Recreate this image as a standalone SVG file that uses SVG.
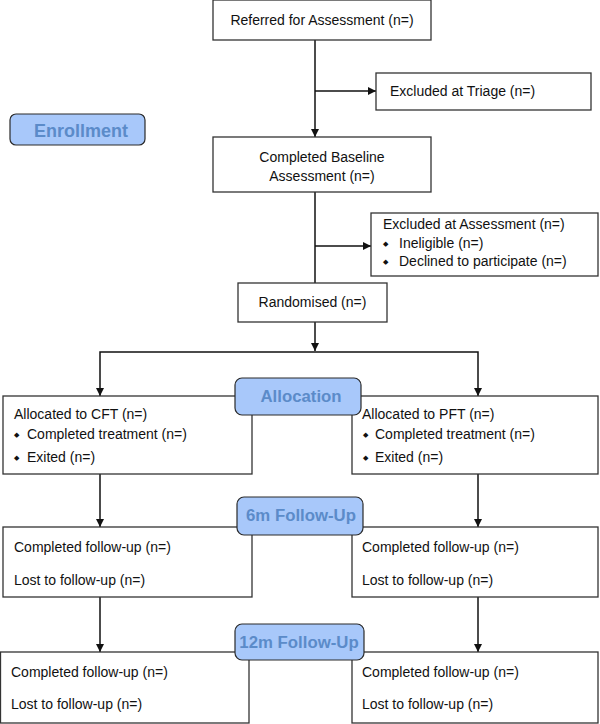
<svg xmlns="http://www.w3.org/2000/svg" width="600" height="724" viewBox="0 0 600 724">
<style>
  .box { fill: #ffffff; stroke: #333333; stroke-width: 1.3; }
  .badge { fill: #a8c8fa; stroke: #2a2a2a; stroke-width: 1.2; }
  .t { font-family: "Liberation Sans", Arial, sans-serif; font-size: 14px; fill: #111111; }
  .c { text-anchor: middle; }
  .b { font-family: "Liberation Sans", Arial, sans-serif; font-weight: bold; font-size: 16.8px; fill: #5b8bc9; text-anchor: middle; }
  .bul { font-family: "DejaVu Sans", sans-serif; font-size: 7px; fill: #111111; }
  .conn { fill: none; stroke: #111111; stroke-width: 1.5; }
</style>
<defs>
  <marker id="arr" markerUnits="userSpaceOnUse" viewBox="0 0 10 10" refX="10" refY="5" markerWidth="9" markerHeight="8" orient="auto">
    <path d="M0,0 L10,5 L0,10 z" fill="#111111"/>
  </marker>
</defs>
<rect width="600" height="724" fill="#ffffff"/>

<g id="connectors">
  <path class="conn" d="M315,40 V137" marker-end="url(#arr)"/>
  <path class="conn" d="M315,91 H376" marker-end="url(#arr)"/>
  <path class="conn" d="M315,192 V283"/>
  <path class="conn" d="M315,246 H371" marker-end="url(#arr)"/>
  <path class="conn" d="M315,322 V351" marker-end="url(#arr)"/>
  <path class="conn" d="M315,352 H100 V396" marker-end="url(#arr)"/>
  <path class="conn" d="M315,352 H478 V396" marker-end="url(#arr)"/>
  <path class="conn" d="M100,474 V527" marker-end="url(#arr)"/>
  <path class="conn" d="M478,474 V527" marker-end="url(#arr)"/>
  <path class="conn" d="M100,597 V652" marker-end="url(#arr)"/>
  <path class="conn" d="M478,597 V652" marker-end="url(#arr)"/>
</g>

<g id="referred">
  <rect class="box" x="213" y="0" width="218" height="40"/>
  <text class="t c" x="322" y="25">Referred for Assessment (n=)</text>
</g>
<g id="triage">
  <rect class="box" x="376" y="73" width="215" height="37"/>
  <text class="t" x="390" y="96">Excluded at Triage (n=)</text>
</g>
<g id="baseline">
  <rect class="box" x="213" y="137" width="218" height="55"/>
  <text class="t c" x="322" y="162">Completed Baseline</text>
  <text class="t c" x="322" y="181">Assessment (n=)</text>
</g>
<g id="excluded-assessment">
  <rect class="box" x="371" y="213" width="227" height="63"/>
  <text class="t" x="383" y="229">Excluded at Assessment (n=)</text>
  <text class="bul" x="383" y="246">◆</text>
  <text class="t" x="399" y="248">Ineligible (n=)</text>
  <text class="bul" x="383" y="264">◆</text>
  <text class="t" x="399" y="266">Declined to participate (n=)</text>
</g>
<g id="randomised">
  <rect class="box" x="238" y="283" width="149" height="39"/>
  <text class="t c" x="312.5" y="307">Randomised (n=)</text>
</g>
<g id="cft">
  <rect class="box" x="3" y="396" width="249" height="78"/>
  <text class="t" x="14" y="419">Allocated to CFT (n=)</text>
  <text class="bul" x="14" y="437">◆</text>
  <text class="t" x="27" y="439">Completed treatment (n=)</text>
  <text class="bul" x="14" y="460">◆</text>
  <text class="t" x="27" y="462">Exited (n=)</text>
</g>
<g id="pft">
  <rect class="box" x="352" y="396" width="246" height="78"/>
  <text class="t" x="362" y="419">Allocated to PFT (n=)</text>
  <text class="bul" x="363" y="437">◆</text>
  <text class="t" x="375" y="439">Completed treatment (n=)</text>
  <text class="bul" x="363" y="460">◆</text>
  <text class="t" x="375" y="462">Exited (n=)</text>
</g>
<g id="fu6-left">
  <rect class="box" x="3" y="527" width="249" height="70"/>
  <text class="t" x="14" y="552">Completed follow-up (n=)</text>
  <text class="t" x="14" y="585">Lost to follow-up (n=)</text>
</g>
<g id="fu6-right">
  <rect class="box" x="352" y="527" width="246" height="70"/>
  <text class="t" x="362" y="552">Completed follow-up (n=)</text>
  <text class="t" x="362" y="585">Lost to follow-up (n=)</text>
</g>
<g id="fu12-left">
  <rect class="box" x="0.5" y="652" width="248.5" height="71"/>
  <text class="t" x="11" y="677">Completed follow-up (n=)</text>
  <text class="t" x="11" y="709">Lost to follow-up (n=)</text>
</g>
<g id="fu12-right">
  <rect class="box" x="352" y="652" width="246" height="71"/>
  <text class="t" x="362" y="677">Completed follow-up (n=)</text>
  <text class="t" x="362" y="709">Lost to follow-up (n=)</text>
</g>

<g id="badge-enrollment">
  <rect class="badge" x="10" y="114" width="135" height="31" rx="6"/>
  <text class="b" x="81" y="137" style="font-size:18px">Enrollment</text>
</g>
<g id="badge-allocation">
  <rect class="badge" x="235" y="378" width="126" height="37" rx="7"/>
  <text class="b" x="301" y="402">Allocation</text>
</g>
<g id="badge-6m">
  <rect class="badge" x="237" y="497" width="126" height="38" rx="7"/>
  <text class="b" x="301" y="521">6m Follow-Up</text>
</g>
<g id="badge-12m">
  <rect class="badge" x="235" y="624" width="129" height="36" rx="7"/>
  <text class="b" x="299" y="648">12m Follow-Up</text>
</g>
</svg>
